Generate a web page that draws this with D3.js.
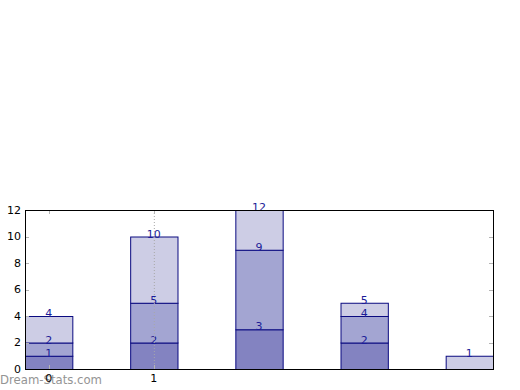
<!DOCTYPE html>
<html>
<head>
<meta charset="utf-8">
<script src="https://cdn.jsdelivr.net/npm/d3@7"></script>
<style>
  body { margin: 0; background: #fff; }
  svg { display: block; font-family: "DejaVu Sans", sans-serif; }
</style>
</head>
<body>
<svg id="chart" width="520" height="390"></svg>
<script>
// data: three stacked series, labels show running totals
const categories = [0, 1, 2, 3, 4];
const series1 = [1, 2, 3, 2, 0];
const series2 = [1, 3, 6, 2, 0];
const series3 = [2, 5, 3, 1, 1];
const yTicks = [0, 2, 4, 6, 8, 10, 12];
const xTicks = [0, 1];

const colors = ["#8383c1", "#a3a5d2", "#cdcde5"];
const edge = "#0a0a80";
const labelColor = "#1c1c98";

const svg = d3.select("#chart");
const plotLeft = 25, plotRight = 493, plotTop = 210, plotBottom = 369;
const barWidth = 0.45;

const x = d3.scaleLinear().domain([-0.225, 4.225]).range([plotLeft, plotRight]);
const y = d3.scaleLinear().domain([0, 12]).range([plotBottom, plotTop]);

const rows = categories.map((c, i) => ({ cat: c, s1: series1[i], s2: series2[i], s3: series3[i] }));
const stacked = d3.stack().keys(["s1", "s2", "s3"])(rows);

// watermark sits under everything
svg.append("text")
  .attr("x", 0)
  .attr("y", 384)
  .attr("fill", "#949494")
  .attr("font-size", "13px")
  .attr("textLength", 102)
  .attr("lengthAdjust", "spacingAndGlyphs")
  .text("Dream-Stats.com");

// bars
stacked.forEach((layer, k) => {
  svg.append("g").selectAll("rect")
    .data(layer.filter(d => d[1] > d[0]))
    .enter()
    .append("rect")
    .attr("x", d => x(d.data.cat - barWidth / 2) + 0.5)
    .attr("y", d => y(d[1]) + 0.5)
    .attr("width", d => x(barWidth) - x(0))
    .attr("height", d => y(d[0]) - y(d[1]))
    .attr("fill", colors[k])
    .attr("stroke", edge)
    .attr("stroke-width", 1);
});

// running total labels
stacked.forEach(layer => {
  svg.append("g").selectAll("text")
    .data(layer.filter(d => d[1] > d[0]))
    .enter()
    .append("text")
    .attr("x", d => x(d.data.cat))
    .attr("y", d => y(d[1]) + 1)
    .attr("text-anchor", "middle")
    .attr("font-size", "11px")
    .attr("fill", labelColor)
    .text(d => d[1]);
});

// dotted grid line at x = 1
svg.append("line")
  .attr("x1", x(1) + 0.5).attr("x2", x(1) + 0.5)
  .attr("y1", plotTop).attr("y2", plotBottom)
  .attr("stroke", "#a8a8a8")
  .attr("stroke-dasharray", "1,2");

// ticks (inside, gray)
const tickG = svg.append("g").attr("stroke", "#b4b4b4").attr("stroke-width", 1);
yTicks.forEach(t => {
  const yy = Math.round(y(t)) + 0.5;
  tickG.append("line").attr("x1", plotLeft).attr("x2", plotLeft + 4).attr("y1", yy).attr("y2", yy);
  tickG.append("line").attr("x1", plotRight - 4).attr("x2", plotRight).attr("y1", yy).attr("y2", yy);
});
xTicks.forEach(t => {
  const xx = Math.round(x(t)) + 0.5;
  tickG.append("line").attr("x1", xx).attr("x2", xx).attr("y1", plotTop).attr("y2", plotTop + 4);
  tickG.append("line").attr("x1", xx).attr("x2", xx).attr("y1", plotBottom - 4).attr("y2", plotBottom);
});

// frame
svg.append("rect")
  .attr("x", plotLeft + 0.5).attr("y", plotTop + 0.5)
  .attr("width", plotRight - plotLeft).attr("height", plotBottom - plotTop)
  .attr("fill", "none")
  .attr("stroke", "#000");

// tick labels
svg.append("g").selectAll("text")
  .data(yTicks)
  .enter()
  .append("text")
  .attr("x", plotLeft - 4)
  .attr("y", d => y(d))
  .attr("dy", "0.35em")
  .attr("text-anchor", "end")
  .attr("font-size", "11px")
  .attr("fill", "#000")
  .text(d => d);

svg.append("g").selectAll("text")
  .data(xTicks)
  .enter()
  .append("text")
  .attr("x", d => x(d))
  .attr("y", plotBottom + 13)
  .attr("text-anchor", "middle")
  .attr("font-size", "11px")
  .attr("fill", "#000")
  .text(d => d);
</script>
</body>
</html>
